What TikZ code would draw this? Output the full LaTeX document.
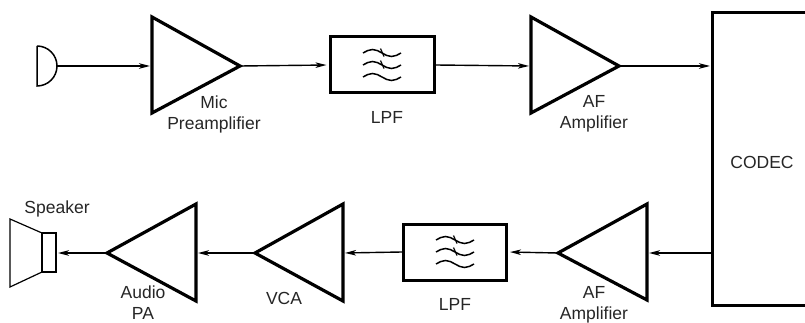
\documentclass[tikz,border=0pt]{standalone}
\usepackage{fontspec}
\setmainfont{Liberation Sans}
\usetikzlibrary{arrows.meta}
\begin{document}
\begin{tikzpicture}[x=1pt,y=-1pt,
  amp/.style={line width=3.2pt,line join=miter},
  blk/.style={line width=3pt},
  sig/.style={line width=1.4pt,-{Stealth[length=11pt,width=5.5pt,inset=3pt]},shorten >=2pt},
  lbl/.style={font=\fontsize{17.5}{21}\selectfont,align=center,text=black!85,inner sep=0pt},
  wave/.style={line width=1.5pt}]
\clip (0,0) rectangle (805,323);
\fill[white] (0,0) rectangle (805,323);
% microphone
\draw[line width=1.5pt] (37,46) -- (37,86) arc[start angle=90,end angle=-90,radius=20];
\coordinate (mic) at (57,66);
% mic preamp
\draw[amp] (152,17) -- (240,66) -- (152,113) -- cycle;
\coordinate (preIn) at (152,66); \coordinate (preOut) at (240,66);
\node[lbl] (preL) at (214,114) {Mic\\Preamplifier};
% LPF 1
\node[blk,draw,minimum width=104pt,minimum height=56pt,inner sep=0pt] (lpf1) at (382,65) {};
\node[lbl] (lpf1L) at (387,117) {LPF};
% AF amp 1
\draw[amp] (531,17) -- (619,66) -- (531,113) -- cycle;
\coordinate (af1In) at (531,66); \coordinate (af1Out) at (619,66);
\node[lbl] (af1L) at (594,114) {AF\\Amplifier};
% CODEC
\draw[blk] (712,13) rectangle (830,305);
\node[lbl] (codec) at (762,162) {CODEC};
\coordinate (codecIn) at (712,66); \coordinate (codecOut) at (712,253);
% AF amp 2
\draw[amp] (647,204) -- (558,253) -- (647,300) -- cycle;
\coordinate (af2In) at (647,253); \coordinate (af2Out) at (558,253);
\node[lbl] (af2L) at (594,305) {AF\\Amplifier};
% LPF 2
\node[blk,draw,minimum width=103pt,minimum height=56pt,inner sep=0pt] (lpf2) at (455,252) {};
\node[lbl] (lpf2L) at (455,304) {LPF};
% VCA
\draw[amp] (343,204) -- (255,253) -- (343,301) -- cycle;
\coordinate (vcaIn) at (343,253); \coordinate (vcaOut) at (255,253);
\node[lbl] (vcaL) at (284,298) {VCA};
% Audio PA
\draw[amp] (196,204) -- (107,253) -- (196,301) -- cycle;
\coordinate (paIn) at (196,253); \coordinate (paOut) at (107,253);
\node[lbl] (paL) at (143,303) {Audio\\PA};
% speaker
\draw[line width=1.2pt] (42,233) rectangle (56,272);
\draw[line width=1.2pt] (42,233) -- (10,219) -- (10,287) -- (42,272);
\coordinate (spk) at (56,253);
\node[lbl] (spkL) at (57,209) {Speaker};
% filter symbols
\foreach \n in {lpf1,lpf2}{
  \begin{scope}[shift={(\n.center)}]
    \foreach \dy in {-12,0,12}{
      \draw[wave] (-19,\dy) sin (-9.5,\dy-3.5) cos (0,\dy) sin (9.5,\dy+3.5) cos (19,\dy);
    }
    \draw[line width=1.2pt] (-1.5,-16.5) -- (2,-8.5);
    \draw[line width=1.2pt] (-1.5,-4.5) -- (2,3.5);
  \end{scope}
}
% connectors
\draw[sig] (mic) -- (preIn);
\draw[sig] (preOut) -- (lpf1.west);
\draw[sig] (lpf1.east) -- (af1In);
\draw[sig] (af1Out) -- (codecIn);
\draw[sig] (codecOut) -- (af2In);
\draw[sig] (af2Out) -- (lpf2.east);
\draw[sig] (lpf2.west) -- (vcaIn);
\draw[sig] (vcaOut) -- (paIn);
\draw[sig] (paOut) -- (spk);
\end{tikzpicture}
\end{document}
